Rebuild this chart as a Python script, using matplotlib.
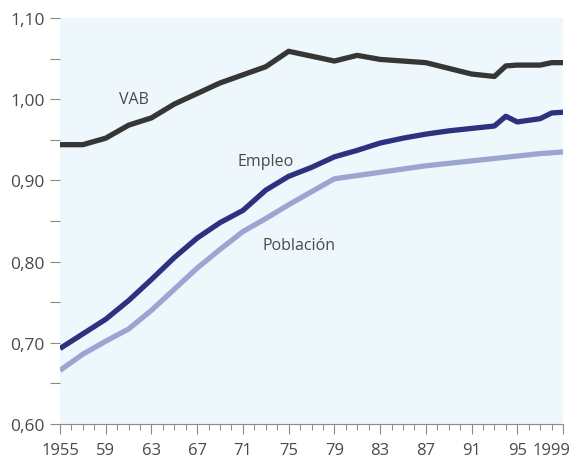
import matplotlib
matplotlib.use("Agg")
import matplotlib.pyplot as plt
from matplotlib.ticker import MultipleLocator, FixedLocator

plt.rcParams['font.family'] = ['Open Sans', 'DejaVu Sans']

vab_years = [1955, 1957, 1959, 1961, 1963, 1965, 1967, 1969, 1971, 1973, 1975,
             1977, 1979, 1981, 1983, 1985, 1987, 1989, 1991, 1993, 1994, 1995,
             1997, 1998, 1999]
vab = [0.944, 0.944, 0.952, 0.968, 0.977, 0.994, 1.007, 1.020, 1.030, 1.040, 1.059,
       1.053, 1.047, 1.054, 1.049, 1.047, 1.045, 1.038, 1.031, 1.028, 1.041, 1.042,
       1.042, 1.045, 1.045]

emp_years = [1955, 1957, 1959, 1961, 1963, 1965, 1967, 1969, 1971, 1973, 1975,
             1977, 1979, 1981, 1983, 1985, 1987, 1989, 1991, 1993, 1994, 1995,
             1997, 1998, 1999]
empleo = [0.693, 0.711, 0.729, 0.752, 0.778, 0.805, 0.829, 0.848, 0.863, 0.888, 0.905,
          0.916, 0.929, 0.937, 0.946, 0.952, 0.957, 0.961, 0.964, 0.967, 0.979, 0.972,
          0.976, 0.983, 0.984]

pob_years = [1955, 1957, 1959, 1961, 1963, 1965, 1967, 1969, 1971, 1973, 1975,
             1977, 1979, 1981, 1983, 1985, 1987, 1989, 1991, 1993, 1995, 1997, 1999]
poblacion = [0.666, 0.686, 0.702, 0.717, 0.740, 0.766, 0.792, 0.815, 0.837, 0.853, 0.870,
             0.886, 0.902, 0.906, 0.910, 0.914, 0.918, 0.921, 0.924, 0.927, 0.930, 0.933, 0.935]

x_major = [1955, 1959, 1963, 1967, 1971, 1975, 1979, 1983, 1987, 1991, 1995, 1999]
x_labels = ["1955", "59", "63", "67", "71", "75", "79", "83", "87", "91", "95", "1999"]
y_ticks = [0.60, 0.70, 0.80, 0.90, 1.00, 1.10]
y_labels = ["0,60", "0,70", "0,80", "0,90", "1,00", "1,10"]

fig = plt.figure(figsize=(5.73, 4.64), dpi=100)
ax = fig.add_axes([60/573, 1 - 425/464, (563 - 60)/573, (425 - 19)/464])
ax.set_facecolor('#eef7fb')

ax.plot(vab_years, vab, color='#363636', lw=3.8, solid_capstyle='butt', solid_joinstyle='round')
ax.plot(emp_years, empleo, color='#2c3180', lw=3.8, solid_capstyle='butt', solid_joinstyle='round')
ax.plot(pob_years, poblacion, color='#9ca5d2', lw=3.8, solid_capstyle='butt', solid_joinstyle='round')

txt = '#4a4a4a'
ax.text(1961.5, 1.000, "VAB", fontsize=11.5, color=txt, ha='center', va='center')
ax.text(1973.0, 0.924, "Empleo", fontsize=11.5, color=txt, ha='center', va='center')
ax.text(1975.9, 0.821, "Población", fontsize=11.5, color=txt, ha='center', va='center')

ax.set_xlim(1955, 1999)
ax.set_ylim(0.60, 1.10)

ax.xaxis.set_major_locator(FixedLocator(x_major))
ax.set_xticks(x_major)
ax.set_xticklabels(x_labels[:-1] + [""])
ax.xaxis.set_minor_locator(MultipleLocator(1))
ax.set_yticks(y_ticks)
ax.set_yticklabels(y_labels)
ax.yaxis.set_minor_locator(MultipleLocator(0.05))

for s in ['top', 'right', 'left']:
    ax.spines[s].set_visible(False)
ax.spines['bottom'].set_color('#8a8a8a')
ax.spines['bottom'].set_linewidth(0.8)

ax.tick_params(axis='x', which='major', length=7, width=0.8, color='#8a8a8a',
               labelsize=12, labelcolor=txt, pad=6)
ax.tick_params(axis='x', which='minor', length=4, width=0.7, color='#8a8a8a')
ax.tick_params(axis='y', which='both', length=7, width=0.8, color='#8a8a8a',
               labelsize=12.5, labelcolor=txt, pad=4)

# last tick label sits right-aligned slightly past the axis end, as in the reference
ax.annotate(x_labels[-1], xy=(x_major[-1], 0), xycoords=('data', 'axes fraction'),
            xytext=(5, -13), textcoords='offset points', ha='right', va='top',
            fontsize=12, color=txt)

fig.savefig("out.png", dpi=100, facecolor='white')
